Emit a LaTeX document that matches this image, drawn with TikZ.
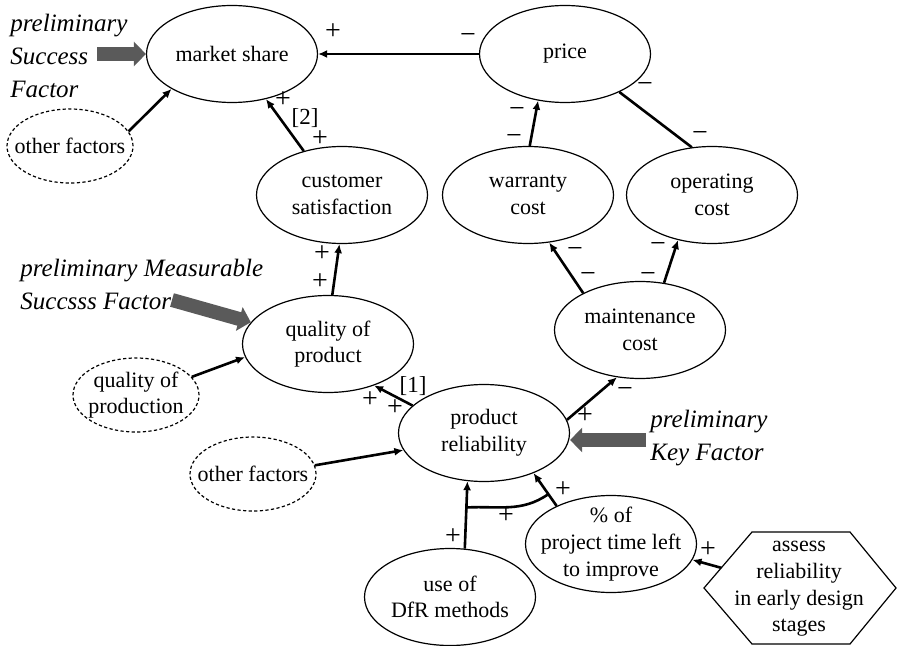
\documentclass[tikz,border=0pt]{standalone}
\usepackage{fontspec}
\setmainfont{Liberation Serif}
\usepackage{tikz}
\usetikzlibrary{shapes.geometric,arrows.meta,calc}
\definecolor{bigarrowgray}{HTML}{5A5A5A}

\tikzset{
	factor/.style={ellipse, draw, line width=0.6pt, minimum width=85.5pt, minimum height=48.5pt,
		inner xsep=-6pt, inner ysep=-2pt, align=center, font=\fontsize{11}{13.3}\selectfont},
	extfactor/.style={factor, dash pattern=on 1.6pt off 1.2pt, minimum width=63pt, minimum height=37pt},
	link/.style={line width=1.3pt, -{Latex[length=4.5pt,width=4pt]}},
	sgn/.style={inner sep=0pt, text height=0.5em, text depth=0pt, font=\fontsize{14}{14}\selectfont},
	note/.style={align=left, inner sep=0pt, font=\fontsize{12.5}{16.5}\selectfont\itshape},
	bigarrow/.style={line width=7pt, draw=bigarrowgray, -{Triangle[length=6pt,width=12pt]}},
}

\begin{document}
\begin{tikzpicture}[x=0.5pt, y=-0.5pt]
	\useasboundingbox (0,0) rectangle (897,646);
	\node[factor] (market) at (232,54) {market share};
	\node[factor] (price) at (565,54) {price};
	\node[extfactor] (other1) at (70,146) {other factors};
	\node[factor] (custsat) at (342,195) {customer\\satisfaction};
	\node[factor] (warranty) at (528,195) {warranty\\cost};
	\node[factor] (operating) at (712,195) {operating\\cost};
	\node[factor] (quality) at (328,344) {quality of\\product};
	\node[extfactor] (production) at (136,395) {quality of\\production};
	\node[factor] (maint) at (640,330) {maintenance\\cost};
	\node[factor] (reliab) at (484,433) {product\\reliability};
	\node[extfactor] (other2) at (253,474) {other factors};
	\node[factor] (dfr) at (450,597) {use of\\DfR methods};
	\node[factor] (timeleft) at (611,544) {\% of\\project time left\\to improve};
	\node[align=center, inner sep=0pt, font=\fontsize{11}{13.3}\selectfont] (assess) at (799,589) {assess\\reliability\\in early design\\stages};
	\draw[line width=0.6pt] (704,588) coordinate (hexw) -- (752,532) coordinate (hexnw) -- (850,532) -- (896,588) -- (850,644) -- (752,644) -- cycle;
	\coordinate (hexin) at ($(hexw)!0.36!(hexnw)$);

	\draw[link] (price) -- (market);
	\draw[link] (other1.14) -- (market.210);
	\draw[link] (custsat.131) -- (market.307);
	\draw[link] (quality.85) -- (custsat.267);
	\draw[link] (production.18) -- (quality.189);
	\draw[link] (reliab.159) -- (quality.318);
	\draw[link] (warranty.88) -- (price.240);
	\draw[line width=1.3pt] (operating.113) -- (price.325);
	\draw[link] (maint.147) -- (warranty.294);
	\draw[link] (maint.63) -- (operating.233);
	\draw[link] (reliab.9) -- (maint.244);
	\draw[link] (other2.8) -- (reliab.192);
	\draw[link] (dfr.73) -- (reliab.251);
	\draw[link] (timeleft.145) -- (reliab.321);
	\draw[link] (hexin) -- (timeleft.349);
	\draw[line width=1.3pt] ($(dfr.73)!0.61!(reliab.251)$) to[out=3, in=215] ($(timeleft.145)!0.36!(reliab.321)$);

	\foreach \px/\py/\txt [count=\i] in {333/35/+, 468/39/−, 283/103/+, 305/120/{\fontsize{11.5}{12}\selectfont[2]}, 320/142/+,
		322/257/+, 320/284/+, 413/387/{\fontsize{11.5}{12}\selectfont[1]}, 370/402/+, 395/410/+, 517/113/−, 514/140/−,
		645/88/−, 700/137/−, 575/252/−, 588/277/−, 658/248/−, 648/277/−, 625/392/−,
		585/418/+, 453/539/+, 563/492/+, 506/518/+, 708/552/+}
		\node[sgn] (sign\i) at (\px,\py) {\txt};

	\node[note, anchor=west] (succnote) at (10,56) {preliminary\\Success\\Factor};
	\coordinate (succtail) at (97,54);
	\draw[bigarrow] (succtail) -- (market.west);
	\node[note, anchor=west] (measnote) at (20,284) {preliminary Measurable\\Succsss Factor};
	\coordinate (meastail) at (172,300);
	\draw[bigarrow] (meastail) -- (quality);
	\node[note, anchor=west] (keynote) at (650,438) {preliminary\\Key Factor};
	\coordinate (keytail) at (646,440);
	\draw[bigarrow] (keytail) -- (keytail -| reliab.east);
\end{tikzpicture}
\end{document}
